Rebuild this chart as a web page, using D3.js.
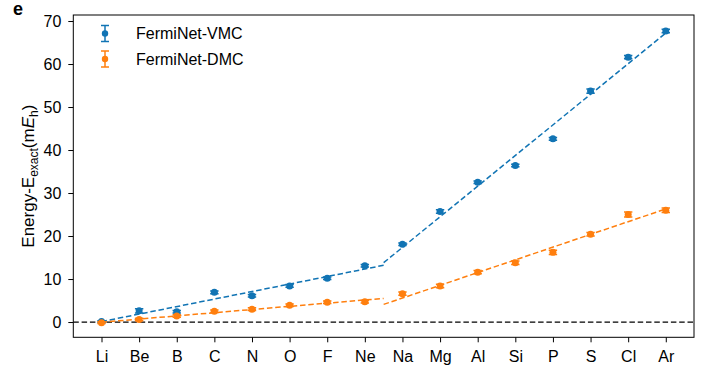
<!DOCTYPE html>
<html>
<head>
<meta charset="utf-8">
<script src="https://cdn.jsdelivr.net/npm/d3@7"></script>
<style>
  body { margin: 0; background: #fff; }
  svg { display: block; font-family: "Liberation Sans", Arial, sans-serif; }
</style>
</head>
<body>
<svg id="chart"></svg>
<script>
// Atoms on the x axis
const elements = ["Li", "Be", "B", "C", "N", "O", "F", "Ne", "Na", "Mg", "Al", "Si", "P", "S", "Cl", "Ar"];

// Energy - E_exact (mEh)
const vmcValues = [0.1, 2.6, 2.4, 6.9, 6.1, 8.4, 10.2, 13.1, 18.1, 25.7, 32.5, 36.4, 42.6, 53.7, 61.6, 67.7];
const vmcErrors = [0.2, 0.5, 0.3, 0.3, 0.3, 0.3, 0.3, 0.3, 0.3, 0.4, 0.3, 0.3, 0.3, 0.5, 0.4, 0.4];
const dmcValues = [-0.15, 0.6, 1.4, 2.5, 3.0, 3.9, 4.6, 4.7, 6.6, 8.4, 11.6, 13.8, 16.2, 20.4, 25.0, 26.0];
const dmcErrors = [0.2, 0.3, 0.3, 0.3, 0.3, 0.3, 0.3, 0.3, 0.4, 0.4, 0.4, 0.4, 0.5, 0.4, 0.6, 0.5];

// dashed trend segments (row 2 / row 3 of the table), endpoints
const fitIndex = [[0, 7.5], [7.5, 15]];
const vmcFit = [[0.1, 13.2], [13.8, 67.2]];
const dmcFit = [[-0.05, 5.5], [4.1, 26.3]];

const yTicks = [0, 10, 20, 30, 40, 50, 60, 70];

const series = [
    { name: "FermiNet-VMC", color: "#1174b4", values: vmcValues, errors: vmcErrors, fit: vmcFit },
    { name: "FermiNet-DMC", color: "#ff7f0e", values: dmcValues, errors: dmcErrors, fit: dmcFit }
];

function DrawChart(targetElem, width, height) {

    const left = 73.3, right = 694, top = 15, bottom = 337.3;

    const svg = d3.select(targetElem)
        .attr("width", width)
        .attr("height", height);

    svg.selectAll("*").remove();

    // X scale (index based, matplotlib-style margins)
    const x = d3.scaleLinear()
        .domain([-0.75, elements.length - 0.25])
        .range([left, right]);

    // Y scale
    const y = d3.scaleLinear()
        .domain([-3.55, 71.4])
        .range([bottom, top]);

    svg.append("clipPath").attr("id", "plot-clip")
        .append("rect")
        .attr("x", left).attr("y", top)
        .attr("width", right - left).attr("height", bottom - top);

    const plot = svg.append("g").attr("clip-path", "url(#plot-clip)");

    // zero line
    plot.append("line")
        .attr("x1", left).attr("x2", right)
        .attr("y1", y(0)).attr("y2", y(0))
        .attr("stroke", "#000")
        .attr("stroke-width", 1.3)
        .attr("stroke-dasharray", "5.5,2.8");

    // dashed trend lines
    const line = d3.line().x(d => x(d[0])).y(d => y(d[1]));
    series.forEach(s => {
        s.fit.forEach((seg, i) => {
            plot.append("path")
                .datum(fitIndex[i].map((xi, j) => [xi, seg[j]]))
                .attr("d", line)
                .attr("fill", "none")
                .attr("stroke", s.color)
                .attr("stroke-width", 1.5)
                .attr("stroke-dasharray", "5.5,2.8");
        });
    });

    // error bars + markers
    series.forEach(s => {
        const g = plot.append("g");
        const pts = s.values.map((v, i) => ({ i: i, v: v, e: s.errors[i] }));

        g.selectAll(".err")
            .data(pts)
            .enter()
            .append("line")
            .attr("x1", d => x(d.i)).attr("x2", d => x(d.i))
            .attr("y1", d => y(d.v - d.e)).attr("y2", d => y(d.v + d.e))
            .attr("stroke", s.color)
            .attr("stroke-width", 1.5);

        [-1, 1].forEach(sign => {
            g.selectAll(".cap" + sign)
                .data(pts)
                .enter()
                .append("line")
                .attr("x1", d => x(d.i) - 4.2).attr("x2", d => x(d.i) + 4.2)
                .attr("y1", d => y(d.v + sign * d.e)).attr("y2", d => y(d.v + sign * d.e))
                .attr("stroke", s.color)
                .attr("stroke-width", 1.5);
        });

        g.selectAll("circle")
            .data(pts)
            .enter()
            .append("circle")
            .attr("cx", d => x(d.i))
            .attr("cy", d => y(d.v))
            .attr("r", 3.5)
            .attr("fill", s.color);
    });

    // Axes
    const xAxis = d3.axisBottom(x)
        .tickValues(d3.range(elements.length))
        .tickFormat(i => elements[i])
        .tickSize(5)
        .tickPadding(8);

    const yAxis = d3.axisLeft(y)
        .tickValues(yTicks)
        .tickSize(5)
        .tickPadding(7);

    const gx = svg.append("g")
        .attr("transform", `translate(0, ${bottom})`)
        .call(xAxis);

    const gy = svg.append("g")
        .attr("transform", `translate(${left}, 0)`)
        .call(yAxis);

    [gx, gy].forEach(g => {
        g.select(".domain").remove();
        g.selectAll("text")
            .attr("font-size", 16)
            .attr("font-family", "Liberation Sans, Arial, sans-serif")
            .attr("fill", "#000");
        g.selectAll("line").attr("stroke", "#000").attr("stroke-width", 1);
    });

    // frame
    svg.append("rect")
        .attr("x", left).attr("y", top)
        .attr("width", right - left).attr("height", bottom - top)
        .attr("fill", "none")
        .attr("stroke", "#000")
        .attr("stroke-width", 1);

    // y label
    const ylab = svg.append("text")
        .attr("transform", `translate(34, ${(top + bottom) / 2}) rotate(-90)`)
        .attr("text-anchor", "middle")
        .attr("font-size", 17)
        .attr("fill", "#000");
    ylab.append("tspan").text("Energy-E");
    ylab.append("tspan").attr("font-size", 12).attr("dy", 4).text("exact");
    ylab.append("tspan").attr("dy", -4).text("(m");
    ylab.append("tspan").attr("font-style", "italic").text("E");
    ylab.append("tspan").attr("font-size", 12).attr("dy", 4).text("h");
    ylab.append("tspan").attr("dy", -4).text(")");

    // panel letter
    svg.append("text")
        .attr("x", 13).attr("y", 15)
        .attr("font-size", 18)
        .attr("font-weight", "bold")
        .attr("fill", "#000")
        .text("e");

    // legend
    const legend = svg.append("g");
    series.forEach((s, i) => {
        const cy = 33.5 + i * 25.5;
        const cx = 105;
        const lg = legend.append("g");
        lg.append("line")
            .attr("x1", cx).attr("x2", cx)
            .attr("y1", cy - 8).attr("y2", cy + 8)
            .attr("stroke", s.color).attr("stroke-width", 1.5);
        [-8, 8].forEach(dy => {
            lg.append("line")
                .attr("x1", cx - 4).attr("x2", cx + 4)
                .attr("y1", cy + dy).attr("y2", cy + dy)
                .attr("stroke", s.color).attr("stroke-width", 1.5);
        });
        lg.append("circle")
            .attr("cx", cx).attr("cy", cy).attr("r", 3.2)
            .attr("fill", s.color);
        lg.append("text")
            .attr("x", 136).attr("y", cy)
            .attr("dy", "0.36em")
            .attr("font-size", 16)
            .attr("fill", "#000")
            .text(s.name);
    });
}

DrawChart("#chart", 702, 373);
</script>
</body>
</html>
